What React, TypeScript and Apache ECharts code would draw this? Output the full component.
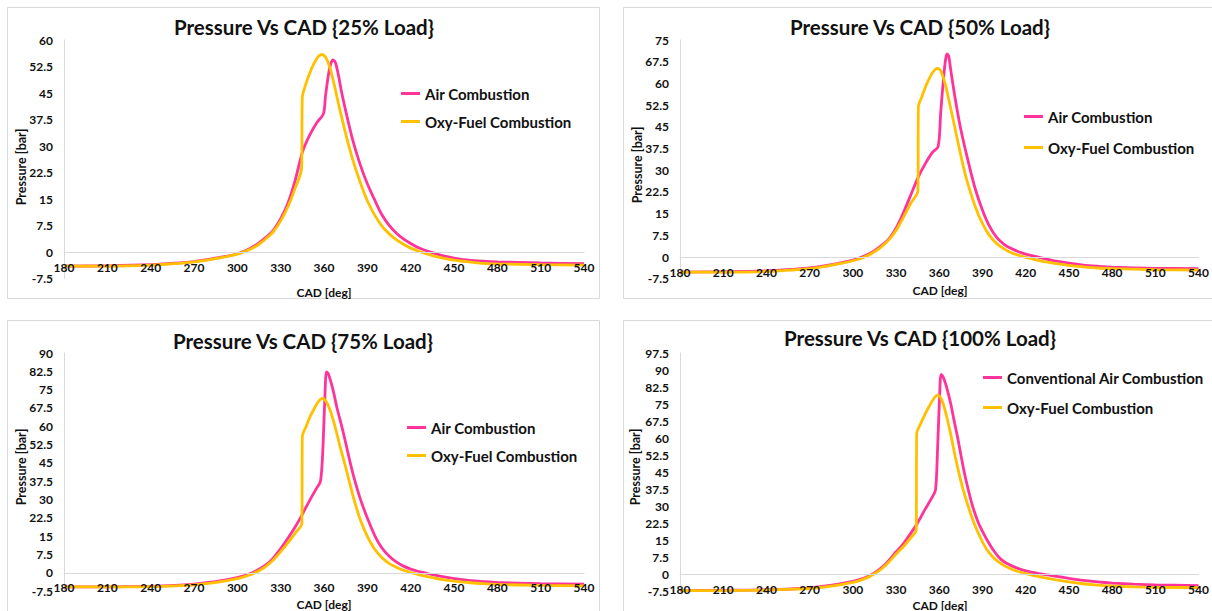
import React, { useEffect, useRef } from "react";
import * as echarts from "echarts";

// ---------- DATA ----------
const panelTitles = [
  "Pressure Vs CAD {25% Load}",
  "Pressure Vs CAD {50% Load}",
  "Pressure Vs CAD {75% Load}",
  "Pressure Vs CAD {100% Load}",
];
const airNames = ["Air Combustion", "Air Combustion", "Air Combustion", "Conventional Air Combustion"];
const oxyName = "Oxy-Fuel Combustion";
const yMaxes = [60, 75, 90, 97.5];

// 25% load
const air25Cad = [180, 210, 240, 260, 270, 280, 290, 300, 305, 310, 315, 320, 325, 330, 335, 340, 345, 350, 355, 359.6, 361, 363, 364.5, 366.2, 368, 370, 372.3, 375, 380, 385, 390, 395, 400, 405, 410, 415, 420, 425, 430, 435, 440, 450, 460, 470, 480, 510, 540];
const air25P = [-4.0, -3.9, -3.6, -3.1, -2.7, -2.1, -1.4, -0.5, 0.3, 1.3, 2.6, 4.2, 6.2, 9.4, 13.8, 20.2, 28.2, 33, 36.6, 39.1, 44, 50, 53, 54.4, 53.5, 50, 45, 40, 31.5, 24.8, 19.3, 14.8, 10.6, 7.6, 5.4, 3.7, 2.4, 1.3, 0.5, -0.2, -0.8, -1.7, -2.3, -2.6, -2.8, -3.1, -3.3];
const oxy25Cad = [180, 210, 240, 260, 270, 280, 290, 300, 305, 310, 315, 320, 325, 330, 335, 340, 344.5, 345, 347, 350, 353, 356, 358.3, 361, 364, 367, 370, 375, 380, 385, 390, 395, 400, 405, 410, 415, 420, 425, 430, 435, 440, 450, 460, 470, 480, 510, 540];
const oxy25P = [-4.0, -4.0, -3.7, -3.2, -2.8, -2.2, -1.5, -0.6, 0.1, 1.0, 2.2, 3.8, 5.8, 8.8, 12.8, 18.0, 23.8, 43.8, 47, 50.5, 53.3, 55.3, 55.9, 55.2, 52.3, 47.5, 42, 33.5, 26, 19.8, 14.5, 10.5, 7.4, 5.2, 3.5, 2.2, 1.1, 0.3, -0.4, -1.0, -1.5, -2.3, -2.8, -3.2, -3.4, -3.6, -3.7];

// 50% load
const air50Cad = [180, 210, 240, 260, 270, 280, 290, 300, 305, 310, 315, 320, 325, 330, 335, 340, 345, 350, 355, 359.2, 361, 363, 364.3, 365.3, 366.5, 368, 370, 372, 375, 380, 385, 390, 395, 400, 405, 410, 415, 420, 425, 430, 435, 440, 450, 460, 470, 480, 510, 540];
const air50P = [-5.2, -5.1, -4.8, -4.2, -3.8, -3.1, -2.2, -1.1, -0.3, 0.8, 2.2, 4.0, 6.3, 10.0, 15.2, 21.2, 27.2, 32.0, 36.0, 38.2, 50, 62, 68, 70.2, 69.5, 64.5, 58, 52, 44, 33.2, 23.5, 16.2, 10.5, 6.7, 4.4, 2.9, 1.8, 1.0, 0.4, -0.2, -0.8, -1.3, -2.1, -2.8, -3.2, -3.5, -3.9, -4.0];
const oxy50Cad = [180, 210, 240, 260, 270, 280, 290, 300, 305, 310, 315, 320, 325, 330, 335, 340, 345.2, 345.5, 348, 351, 354, 356.5, 358.7, 361, 364, 367, 370.7, 374, 377.3, 380, 385, 390, 395, 400, 405, 410, 415, 420, 425, 430, 435, 440, 450, 460, 470, 480, 510, 540];
const oxy50P = [-5.2, -5.2, -5.0, -4.4, -4.0, -3.3, -2.4, -1.3, -0.6, 0.4, 1.8, 3.6, 5.9, 9.2, 13.6, 18.4, 23.0, 51.9, 55.5, 59.5, 62.6, 64.5, 65.2, 64.3, 60, 53.5, 45, 37.3, 30, 25, 17.4, 11.5, 7.3, 4.6, 2.8, 1.5, 0.6, -0.1, -0.7, -1.3, -1.8, -2.2, -2.9, -3.4, -3.8, -4.0, -4.4, -4.5];

// 75% load
const air75Cad = [180, 210, 240, 260, 270, 280, 290, 300, 305, 310, 315, 320, 325, 330, 335, 340, 345, 350, 355, 357.5, 359, 360.5, 361.7, 363, 366.2, 369, 372.3, 375, 378.2, 381, 385.3, 390, 395.4, 400, 405, 410, 415, 420, 425, 430, 435, 440, 450, 460, 470, 480, 510, 540];
const air75P = [-5.7, -5.7, -5.5, -5.0, -4.6, -3.9, -3.0, -1.9, -1.1, 0, 1.5, 3.4, 6.2, 10.0, 14.2, 18.8, 24.0, 29.6, 34.8, 37.4, 48, 70, 82.3, 81.5, 75, 67.5, 60, 53.3, 45, 38.5, 30, 22.5, 15, 10.3, 6.9, 4.5, 2.8, 1.6, 0.7, 0, -0.7, -1.3, -2.3, -3.0, -3.5, -3.9, -4.4, -4.6];
const oxy75Cad = [180, 210, 240, 260, 270, 280, 290, 300, 305, 310, 315, 320, 325, 330, 335, 340, 344.7, 345, 347.3, 350, 353, 356, 358.8, 361, 364, 367.6, 371, 374.2, 377.5, 380.8, 385, 390, 395, 400, 405, 410, 415, 420, 425, 430, 435, 440, 450, 460, 470, 480, 510, 540];
const oxy75P = [-5.7, -5.7, -5.6, -5.2, -4.9, -4.3, -3.4, -2.3, -1.5, -0.5, 0.9, 2.8, 5.4, 8.7, 12.3, 16.2, 20.4, 56, 59.5, 63.5, 67, 70, 71.4, 70.6, 67, 60, 52, 45, 37.5, 30, 22, 15, 9.8, 6.3, 3.9, 2.3, 1.1, 0.2, -0.6, -1.3, -1.9, -2.5, -3.3, -3.9, -4.4, -4.7, -5.1, -5.3];

// 100% load
const air100Cad = [180, 210, 240, 260, 270, 280, 290, 300, 305, 310, 315, 320, 325, 330, 335, 340, 345, 350, 355, 357.4, 358.8, 360.2, 361.3, 363, 365.5, 368, 370.5, 372.8, 375, 377.3, 380, 383.1, 387, 390, 393.2, 397, 401.2, 405, 410, 415, 420, 425, 430, 435, 440, 450, 460, 470, 480, 495, 510, 540];
const air100P = [-7.3, -7.2, -7.0, -6.5, -6.1, -5.4, -4.5, -3.3, -2.4, -1.2, 0.5, 2.8, 6.0, 9.8, 13.3, 17.8, 22.6, 28.4, 33.8, 37.1, 55, 78, 88.1, 86.5, 81.5, 75, 67, 60, 52.5, 45, 37.5, 30, 22.8, 18.8, 15, 11, 7.5, 5.4, 3.7, 2.4, 1.4, 0.7, 0.1, -0.4, -0.9, -1.9, -2.8, -3.5, -4.0, -4.5, -4.8, -5.1];
const oxy100Cad = [180, 210, 240, 260, 270, 280, 290, 300, 305, 310, 315, 320, 325, 330, 335, 340, 344, 344.3, 346.6, 350, 353, 356, 358.7, 361, 363, 365.5, 368, 370.5, 373.3, 376.5, 380, 384.5, 389.3, 393, 397.2, 400, 405, 410, 415, 420, 425, 430, 435, 440, 450, 460, 470, 480, 495, 510, 540];
const oxy100P = [-7.3, -7.3, -7.1, -6.7, -6.4, -5.8, -4.9, -3.7, -2.8, -1.6, 0.1, 2.3, 5.3, 8.8, 12.0, 15.8, 19.5, 62, 65.7, 70.3, 74, 77.2, 78.9, 77.8, 74.5, 68.5, 61.5, 53.5, 45.5, 37.3, 30, 21.8, 15, 10.8, 7.5, 5.9, 3.7, 2.2, 1.0, 0.2, -0.6, -1.3, -1.9, -2.5, -3.5, -4.3, -4.9, -5.3, -5.7, -5.9, -6.0];

const airSets = [[air25Cad, air25P], [air50Cad, air50P], [air75Cad, air75P], [air100Cad, air100P]];
const oxySets = [[oxy25Cad, oxy25P], [oxy50Cad, oxy50P], [oxy75Cad, oxy75P], [oxy100Cad, oxy100P]];

// ---------- LAYOUT ----------
const FONT = "Lato, 'Open Sans', sans-serif";
const AIR_COLOR = "#FF3399";
const OXY_COLOR = "#FFC000";
const TEXT_COLOR = "#111111";
const Y_MIN = -7.5;

const grids = [
  { left: 64, top: 40, width: 520, height: 238.5 },
  { left: 680, top: 40, width: 520, height: 238.7 },
  { left: 64, top: 353, width: 520, height: 238.3 },
  { left: 680, top: 353, width: 520, height: 238 },
];
const titlePos = [[304, 27], [920, 27], [303, 341], [920, 338]];
const xNamePos = [[324, 292], [940, 290], [324, 604], [940, 605]];
const yNamePos = [[21, 167], [637, 165], [21, 467], [635, 467]];
const legendPos = [
  { left: 396, top: 81, gap: 13 },
  { left: 1019, top: 104, gap: 16 },
  { left: 402, top: 415, gap: 13 },
  { left: 978, top: 365, gap: 15 },
];
const borders = [
  { x: 7.5, y: 7.5, w: 592, h: 291 },
  { x: 623.5, y: 7.5, w: 620, h: 291 },
  { x: 7.5, y: 320.5, w: 592, h: 320 },
  { x: 623.5, y: 320.5, w: 620, h: 320 },
];

function zip(xs: number[], ys: number[]) {
  return xs.map((x, i) => [x, ys[i]]);
}

export default function App() {
  const ref = useRef<HTMLDivElement>(null);
  useEffect(() => {
    if (!ref.current) return;
    const chart = echarts.init(ref.current, undefined, { renderer: "svg" });

    const graphic: any[] = [];
    borders.forEach((b) =>
      graphic.push({
        type: "rect",
        shape: { x: b.x, y: b.y, width: b.w, height: b.h },
        style: { fill: "none", stroke: "#d9d9d9", lineWidth: 1 },
        silent: true,
        z: -1,
      })
    );
    panelTitles.forEach((t, i) =>
      graphic.push({
        type: "text",
        x: titlePos[i][0],
        y: titlePos[i][1],
        style: {
          text: t,
          fill: TEXT_COLOR,
          font: `bold 20.5px ${FONT}`,
          textAlign: "center",
          textVerticalAlign: "middle",
        },
      })
    );
    for (let i = 0; i < 4; i++) {
      graphic.push({
        type: "text",
        x: xNamePos[i][0],
        y: xNamePos[i][1],
        style: {
          text: "CAD [deg]",
          fill: TEXT_COLOR,
          font: `bold 12px ${FONT}`,
          textAlign: "center",
          textVerticalAlign: "middle",
        },
      });
      graphic.push({
        type: "text",
        x: yNamePos[i][0],
        y: yNamePos[i][1],
        rotation: Math.PI / 2,
        style: {
          text: "Pressure [bar]",
          fill: TEXT_COLOR,
          font: `bold 12.5px ${FONT}`,
          textAlign: "center",
          textVerticalAlign: "middle",
        },
      });
    }

    const series: any[] = [];
    for (let i = 0; i < 4; i++) {
      series.push({
        name: airNames[i],
        type: "line",
        xAxisIndex: i,
        yAxisIndex: i,
        data: zip(airSets[i][0], airSets[i][1]),
        symbol: "none",
        smooth: 0.3,
        lineStyle: { color: AIR_COLOR, width: 2.8 },
        itemStyle: { color: AIR_COLOR },
        z: 2,
      });
      series.push({
        name: oxyName,
        type: "line",
        xAxisIndex: i,
        yAxisIndex: i,
        data: zip(oxySets[i][0], oxySets[i][1]),
        symbol: "none",
        smooth: 0.3,
        lineStyle: { color: OXY_COLOR, width: 2.8 },
        itemStyle: { color: OXY_COLOR },
        z: 3,
      });
    }

    chart.setOption({
      animation: false,
      backgroundColor: "#ffffff",
      textStyle: { fontFamily: FONT },
      grid: grids.map((g) => ({ ...g, containLabel: false })),
      xAxis: grids.map((g, i) => ({
        type: "value",
        gridIndex: i,
        min: 180,
        max: 540,
        interval: 30,
        position: "bottom",
        z: 10,
        offset: -((0 - Y_MIN) / (yMaxes[i] - Y_MIN)) * g.height,
        axisLine: { show: true, onZero: false, lineStyle: { color: "#d9d9d9", width: 1 } },
        axisTick: { show: false },
        splitLine: { show: false },
        axisLabel: { color: TEXT_COLOR, fontWeight: "bold", fontSize: 12, margin: 9, fontFamily: FONT },
      })),
      yAxis: grids.map((_, i) => ({
        type: "value",
        gridIndex: i,
        min: Y_MIN,
        max: yMaxes[i],
        interval: 7.5,
        axisLine: { show: true, lineStyle: { color: "#d9d9d9", width: 1 } },
        axisTick: { show: false },
        splitLine: { show: false },
        axisLabel: { color: TEXT_COLOR, fontWeight: "bold", fontSize: 12, margin: 11, fontFamily: FONT },
      })),
      legend: legendPos.map((p, i) => ({
        left: p.left,
        top: p.top,
        orient: "vertical",
        icon: "rect",
        itemWidth: 19,
        itemHeight: 3,
        itemGap: p.gap,
        data: [airNames[i], oxyName],
        selectedMode: false,
        textStyle: { color: TEXT_COLOR, fontWeight: "bold", fontSize: 15, lineHeight: 14, fontFamily: FONT },
      })),
      series,
      graphic,
    });

    return () => chart.dispose();
  }, []);

  return (
    <div
      ref={ref}
      style={{ position: "fixed", left: 0, top: 0, width: 1212, height: 611, background: "#fff" }}
    />
  );
}
